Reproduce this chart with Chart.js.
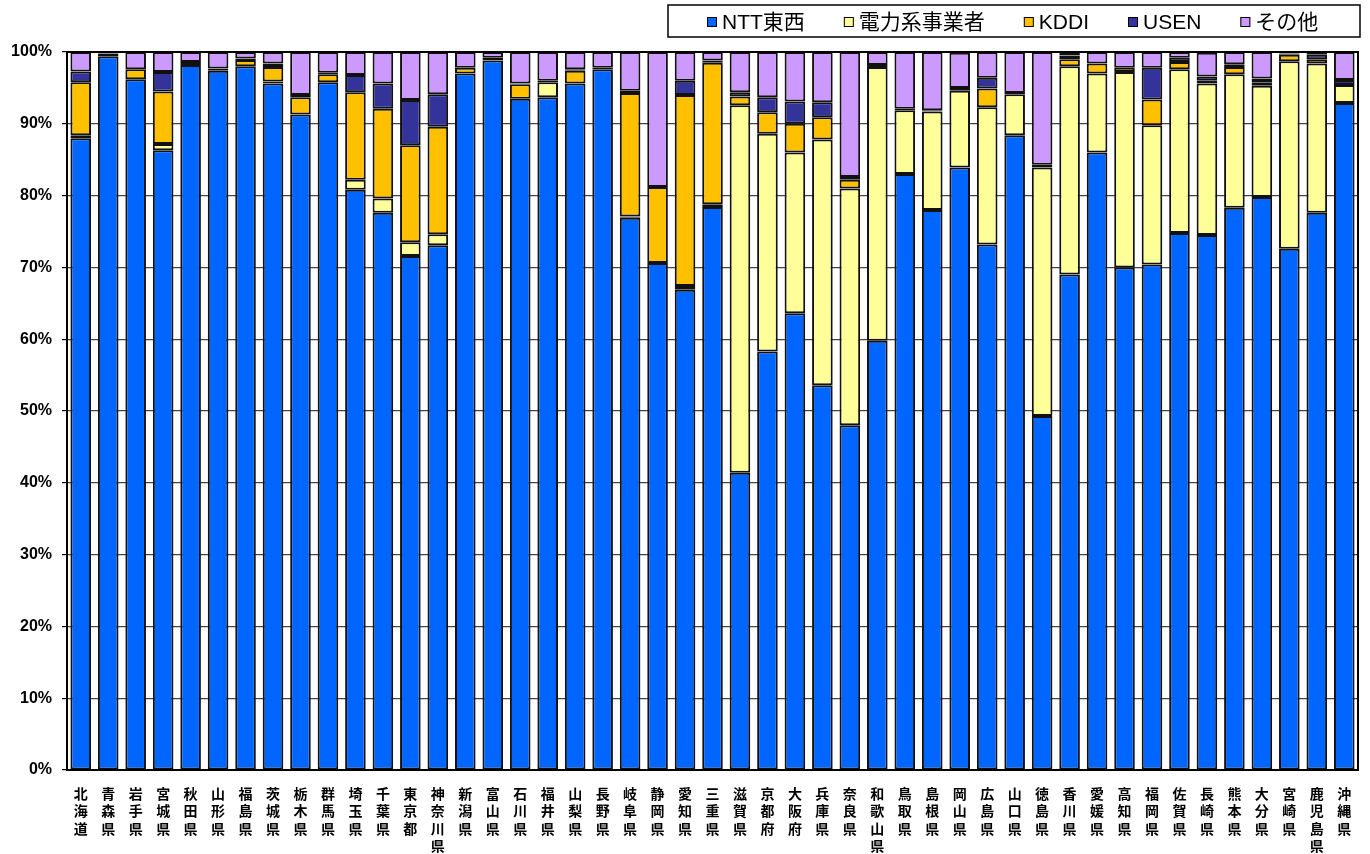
<!DOCTYPE html>
<html>
<head>
<meta charset="utf-8">
<script src="https://cdn.jsdelivr.net/npm/chart.js@4.4.1/dist/chart.umd.min.js"></script>
<style>
    html, body { margin: 0; padding: 0; background: #fff; }
    #wrap { width: 1370px; height: 854px; }
</style>
</head>
<body>
<div id="wrap"><canvas id="share-chart"></canvas></div>
<script>

// Data

var prefectures = [
    '北海道', '青森県', '岩手県', '宮城県', '秋田県', '山形県', '福島県', '茨城県',
    '栃木県', '群馬県', '埼玉県', '千葉県', '東京都', '神奈川県', '新潟県', '富山県',
    '石川県', '福井県', '山梨県', '長野県', '岐阜県', '静岡県', '愛知県', '三重県',
    '滋賀県', '京都府', '大阪府', '兵庫県', '奈良県', '和歌山県', '鳥取県', '島根県',
    '岡山県', '広島県', '山口県', '徳島県', '香川県', '愛媛県', '高知県', '福岡県',
    '佐賀県', '長崎県', '熊本県', '大分県', '宮崎県', '鹿児島県', '沖縄県'
];

var nttValues = [
    88.0, 99.4, 96.2, 86.3, 98.2, 97.4, 98.0, 95.6, 91.3, 95.8, 80.8, 77.6,
    71.6, 73.1, 97.0, 98.8, 93.5, 93.7, 95.6, 97.6, 76.9, 70.6, 66.9, 78.4,
    41.4, 58.3, 63.6, 53.6, 48.0, 59.8, 83.0, 78.0, 83.9, 73.2, 88.4, 49.3,
    69.0, 86.0, 70.0, 70.4, 74.8, 74.5, 78.3, 79.8, 72.6, 77.6, 92.9
];

var powerValues = [
    0.4, 0, 0, 0.9, 0, 0, 0, 0.3, 0, 0, 1.4, 2.0,
    1.9, 1.5, 0, 0, 0, 2.1, 0, 0, 0.2, 0, 0.5, 0.4,
    51.2, 30.3, 22.4, 34.2, 33.0, 38.1, 8.9, 13.7, 10.7, 19.1, 5.7, 34.6,
    29.0, 11.0, 27.2, 19.4, 22.8, 21.1, 18.6, 15.5, 26.1, 20.8, 2.5
];

var kddiValues = [
    7.4, 0, 1.4, 7.3, 0, 0, 0.9, 2.0, 2.4, 1.1, 12.2, 12.5,
    13.5, 15.0, 0.8, 0, 2.0, 0, 1.8, 0, 17.2, 10.6, 26.6, 19.7,
    1.2, 3.0, 4.0, 3.1, 1.2, 0.3, 0, 0, 0, 2.6, 0, 0.4,
    1.0, 1.4, 0.6, 3.6, 1.0, 0.4, 1.0, 0.5, 0.9, 0.6, 0
];

var usenValues = [
    1.5, 0.4, 0, 2.7, 0.4, 0.3, 0.2, 0.5, 0.3, 0.2, 2.4, 3.5,
    6.3, 4.5, 0, 0.4, 0.1, 0.2, 0.2, 0.2, 0.3, 0, 2.0, 0.3,
    0.6, 2.1, 3.1, 2.1, 0.4, 0, 0.2, 0.2, 0.4, 1.5, 0.2, 0,
    0.5, 0, 0, 4.4, 0.6, 0.6, 0.4, 0.5, 0.2, 0.6, 0.7
];

var otherValues = [
    2.7, 0.2, 2.4, 2.8, 1.4, 2.3, 0.9, 1.6, 6.0, 2.9, 3.2, 4.4,
    6.7, 5.9, 2.2, 0.8, 4.4, 4.0, 2.4, 2.2, 5.4, 18.8, 4.0, 1.2,
    5.6, 6.3, 6.9, 7.0, 17.4, 1.8, 7.9, 8.1, 4.9, 3.6, 5.7, 15.7,
    0.5, 1.6, 2.2, 2.2, 0.8, 3.3, 1.7, 3.7, 0.2, 0.4, 3.9
];

var yTicks = [0, 10, 20, 30, 40, 50, 60, 70, 80, 90, 100];

var seriesNames = ['NTT東西', '電力系事業者', 'KDDI', 'USEN', 'その他'];
var seriesColors = ['#0066FF', '#FFFF99', '#FFC000', '#333399', '#CC99FF'];


// Plugins

// box around the legend, like the spreadsheet one
var boxedLegend = {
    id: 'boxedLegend',
    afterDraw: function (chart) {
        var ctx = chart.ctx;
        ctx.save();
        ctx.fillStyle = '#fff';
        ctx.fillRect(668, 5, 692, 32);
        ctx.strokeStyle = '#000';
        ctx.lineWidth = 1.5;
        ctx.strokeRect(668, 5, 692, 32);

        ctx.font = '21px "Liberation Sans", "Noto Sans CJK JP", sans-serif';
        ctx.textBaseline = 'middle';
        var x = 707;
        chart.data.datasets.forEach(function (ds) {
            ctx.fillStyle = ds.backgroundColor;
            ctx.fillRect(x, 17, 10, 10);
            ctx.strokeStyle = '#000';
            ctx.lineWidth = 1;
            ctx.strokeRect(x + 0.5, 17.5, 9, 9);
            ctx.fillStyle = '#000';
            ctx.fillText(ds.label, x + 15, 23);
            x += 15 + ctx.measureText(ds.label).width + 39;
        });
        ctx.restore();
    }
};

var plotFrame = {
    id: 'plotFrame',
    afterDatasetsDraw: function (chart) {
        var a = chart.chartArea;
        var ctx = chart.ctx;
        ctx.save();
        ctx.strokeStyle = '#000';
        ctx.lineWidth = 2;
        ctx.strokeRect(a.left, a.top, a.right - a.left, a.bottom - a.top);
        ctx.restore();
    }
};


// Chart

var datasetValues = [nttValues, powerValues, kddiValues, usenValues, otherValues];

var shareChart = new Chart(document.getElementById('share-chart'), {
    type: 'bar',
    data: {
        labels: prefectures.map(function (p) { return p.split(''); }),
        datasets: seriesNames.map(function (name, i) {
            return {
                label: name,
                data: datasetValues[i],
                backgroundColor: seriesColors[i],
                borderColor: '#111',
                borderWidth: 2,
                borderSkipped: false,
                barPercentage: 0.75,
                categoryPercentage: 1.0
            };
        })
    },
    options: {
        responsive: true,
        maintainAspectRatio: false,
        animation: false,
        layout: {
            padding: { top: 52, right: 12, left: 0, bottom: 0 }
        },
        plugins: {
            legend: { display: false },
            tooltip: { enabled: false }
        },
        scales: {
            x: {
                stacked: true,
                grid: { display: false },
                border: { display: false },
                ticks: {
                    autoSkip: false,
                    maxRotation: 0,
                    minRotation: 0,
                    padding: 7,
                    color: '#000',
                    font: { family: '"Noto Sans CJK JP", sans-serif', size: 14, weight: 'bold', lineHeight: 1.24 }
                },
                afterFit: function (scale) { scale.height = 84; }
            },
            y: {
                stacked: true,
                min: 0,
                max: 100,
                afterBuildTicks: function (scale) {
                    scale.ticks = yTicks.map(function (v) { return { value: v }; });
                },
                grid: {
                    color: '#444',
                    lineWidth: 1.2,
                    tickLength: 5,
                    tickColor: '#000'
                },
                border: { display: false },
                ticks: {
                    padding: 10,
                    color: '#000',
                    font: { family: '"Liberation Sans", sans-serif', size: 16, weight: 'bold' },
                    callback: function (v) { return v + '%'; }
                },
                afterFit: function (scale) { scale.width = 67; }
            }
        }
    },
    plugins: [boxedLegend, plotFrame]
});

</script>
</body>
</html>
